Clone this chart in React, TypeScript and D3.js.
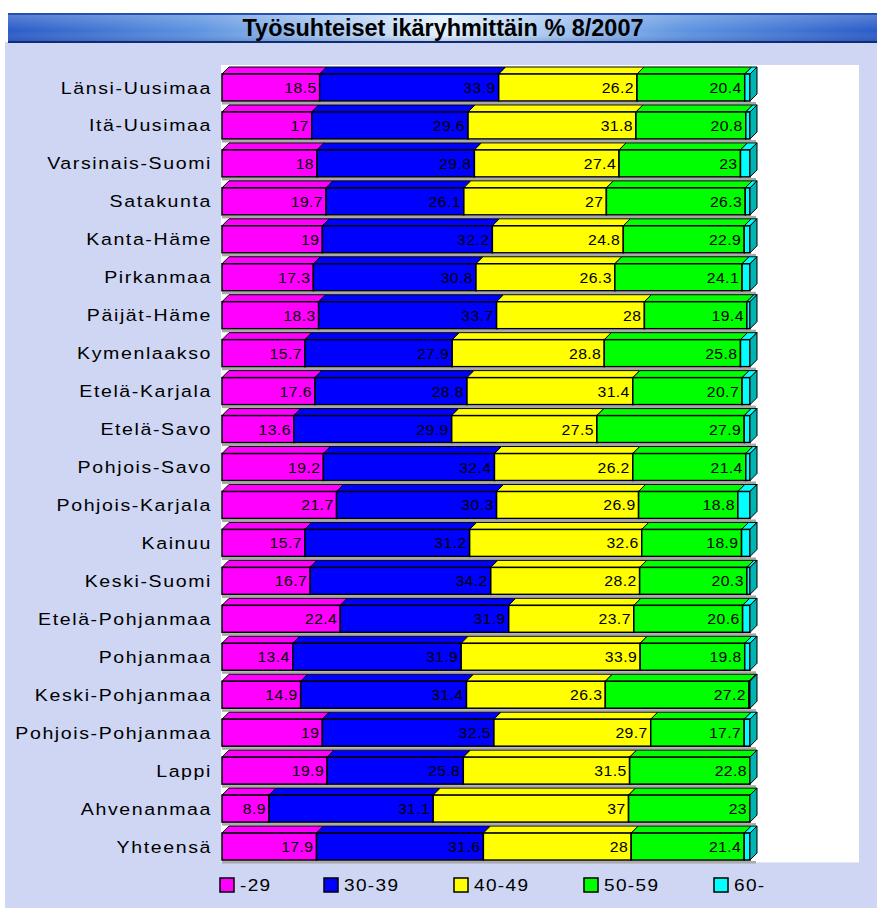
import React from 'react';
import * as d3 from 'd3';

const categories = [
  'Länsi-Uusimaa', 'Itä-Uusimaa', 'Varsinais-Suomi', 'Satakunta', 'Kanta-Häme',
  'Pirkanmaa', 'Päijät-Häme', 'Kymenlaakso', 'Etelä-Karjala', 'Etelä-Savo',
  'Pohjois-Savo', 'Pohjois-Karjala', 'Kainuu', 'Keski-Suomi', 'Etelä-Pohjanmaa',
  'Pohjanmaa', 'Keski-Pohjanmaa', 'Pohjois-Pohjanmaa', 'Lappi', 'Ahvenanmaa', 'Yhteensä'
];

const under29 = [18.5, 17, 18, 19.7, 19, 17.3, 18.3, 15.7, 17.6, 13.6, 19.2, 21.7, 15.7, 16.7, 22.4, 13.4, 14.9, 19, 19.9, 8.9, 17.9];
const age30to39 = [33.9, 29.6, 29.8, 26.1, 32.2, 30.8, 33.7, 27.9, 28.8, 29.9, 32.4, 30.3, 31.2, 34.2, 31.9, 31.9, 31.4, 32.5, 25.8, 31.1, 31.6];
const age40to49 = [26.2, 31.8, 27.4, 27, 24.8, 26.3, 28, 28.8, 31.4, 27.5, 26.2, 26.9, 32.6, 28.2, 23.7, 33.9, 26.3, 29.7, 31.5, 37, 28];
const age50to59 = [20.4, 20.8, 23, 26.3, 22.9, 24.1, 19.4, 25.8, 20.7, 27.9, 21.4, 18.8, 18.9, 20.3, 20.6, 19.8, 27.2, 17.7, 22.8, 23, 21.4];
const over60 = [1.0, 0.8, 1.8, 0.9, 1.1, 1.5, 0.6, 1.8, 1.5, 1.1, 0.8, 2.3, 1.6, 0.6, 1.4, 1.0, 0.2, 1.1, 0, 0, 1.1];

const seriesNames = ['-29', '30-39', '40-49', '50-59', '60-'];
const seriesValues = [under29, age30to39, age40to49, age50to59, over60];
const colors = ['#ff00ff', '#0000ff', '#ffff00', '#00ff00', '#00ffff'];

const W = 877;
const H = 908;

export default function App() {
  const rows = categories.map((name, i) => {
    const r: any = { name };
    seriesNames.forEach((s, k) => { r[s] = seriesValues[k][i]; });
    return r;
  });
  const stacked = d3.stack<any>().keys(seriesNames)(rows);

  const x = d3.scaleLinear().domain([0, 100]).range([222, 750]);
  const y = d3.scaleBand().domain(categories).range([65, 862]);

  const dx = 7;
  const dy = 7;
  const faceOffset = 9;
  const faceH = 27;

  const legendX = [220, 324, 454, 584, 714];
  const font = "'Liberation Sans', Arial, sans-serif";

  return (
    <div style={{ position: 'absolute', left: 0, top: 0 }}>
      <svg width={W} height={H} style={{ display: 'block' }}>
        <defs>
          <linearGradient id="titleGrad" x1="0" x2="1" y1="0" y2="0">
            <stop offset="0%" stopColor="#2a5bc8" />
            <stop offset="22%" stopColor="#5d93e0" />
            <stop offset="50%" stopColor="#e4f1fc" />
            <stop offset="78%" stopColor="#5d93e0" />
            <stop offset="100%" stopColor="#2a5bc8" />
          </linearGradient>
          <linearGradient id="titleShade" x1="0" x2="0" y1="0" y2="1">
            <stop offset="0%" stopColor="#ffffff" stopOpacity={0.25} />
            <stop offset="60%" stopColor="#ffffff" stopOpacity={0} />
            <stop offset="100%" stopColor="#00206a" stopOpacity={0.25} />
          </linearGradient>
        </defs>

        <rect x={0} y={0} width={W} height={H} fill="#ffffff" />
        <rect x={5} y={42} width={W - 5} height={H - 42} fill="#ced6f4" />

        {/* title bar */}
        <rect x={8} y={13} width={W - 8} height={30} fill="url(#titleGrad)" />
        <rect x={8} y={13} width={W - 8} height={30} fill="url(#titleShade)" />
        <rect x={8} y={13} width={W - 8} height={2} fill="#2450b0" />
        <rect x={8} y={41} width={W - 8} height={2} fill="#0f2c74" />
        <text
          transform="translate(443,36) scale(1.02,1)"
          textAnchor="middle"
          fontFamily="'Liberation Sans Narrow', 'Arial Narrow', 'Liberation Sans', sans-serif"
          fontWeight="bold"
          fontSize={23}
          fill="#000000"
        >
          Työsuhteiset ikäryhmittäin % 8/2007
        </text>

        {/* plot area */}
        <rect x={221} y={65} width={638} height={797} fill="#ffffff" />
        <line x1={221} x2={859} y1={862.5} y2={862.5} stroke="#e0e4f4" />

        {/* category labels */}
        {categories.map(c => (
          <text
            key={c}
            transform={`translate(212,${(y(c) as number) + faceOffset + faceH / 2 + 6}) scale(1.15,1)`}
            textAnchor="end"
            fontFamily={font}
            fontSize={17}
            letterSpacing={1.4}
            fill="#000000"
          >
            {c}
          </text>
        ))}

        {/* bars */}
        {categories.map((c, i) => {
          const top = (y(c) as number) + faceOffset;
          const bottom = top + faceH;
          const end = x(stacked[stacked.length - 1][i][1]);
          return (
            <g key={c}>
              <rect x={x(0)} y={bottom + 1} width={end - x(0) + dx - 1} height={2.5} fill="#a9a9a9" />
              {stacked.map((layer, k) => {
                const x0 = x(layer[i][0]);
                const x1 = x(layer[i][1]);
                return (
                  <g key={k}>
                    <polygon
                      points={`${x0},${top} ${x0 + dx},${top - dy} ${x1 + dx},${top - dy} ${x1},${top}`}
                      fill={colors[k]}
                      stroke="#000000"
                      strokeWidth={1}
                      strokeLinejoin="round"
                    />
                    <rect
                      x={x0}
                      y={top}
                      width={Math.max(0, x1 - x0)}
                      height={faceH}
                      fill={colors[k]}
                      stroke="#000000"
                      strokeWidth={1.5}
                    />
                  </g>
                );
              })}
              <polygon
                points={`${end},${top} ${end + dx},${top - dy} ${end + dx},${bottom - dy} ${end},${bottom}`}
                fill="#00b4b4"
                stroke="#000000"
                strokeWidth={1}
              />
              {stacked.slice(0, 4).map((layer, k) => (
                <text
                  key={k}
                  transform={`translate(${x(layer[i][1]) - 3},${top + faceH / 2 + 5.5}) scale(1.05,1)`}
                  textAnchor="end"
                  fontFamily={font}
                  fontSize={15}
                  letterSpacing={0.4}
                  fill="#000000"
                >
                  {String(seriesValues[k][i])}
                </text>
              ))}
            </g>
          );
        })}

        {/* legend */}
        {seriesNames.map((s, k) => (
          <g key={s}>
            <rect x={legendX[k]} y={878} width={14} height={14} fill={colors[k]} stroke="#000000" strokeWidth={1.5} />
            <text
              transform={`translate(${legendX[k] + 20},891) scale(1.12,1)`}
              fontFamily={font}
              fontSize={17}
              letterSpacing={1.2}
              fill="#000000"
            >
              {s}
            </text>
          </g>
        ))}
      </svg>
    </div>
  );
}
